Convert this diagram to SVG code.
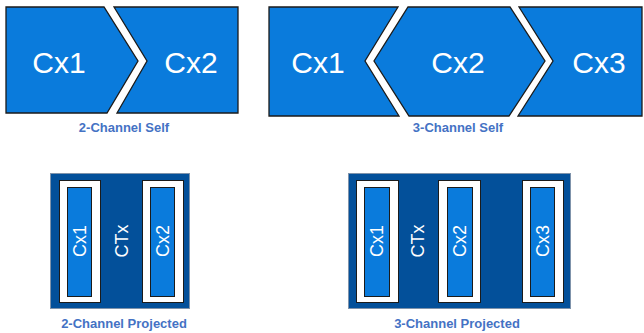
<svg xmlns="http://www.w3.org/2000/svg" width="644" height="333" viewBox="0 0 644 333">
<style>
.elec{fill:#0A7BDC;stroke:#1b1b1b;stroke-width:1.3;stroke-linejoin:miter}
.big{font-family:"Liberation Sans",Arial,sans-serif;font-size:30px;fill:#ffffff;text-anchor:middle}
.rot{font-family:"Liberation Sans",Arial,sans-serif;font-size:18px;fill:#ffffff;text-anchor:middle}
.cap{font-family:"Liberation Sans",Arial,sans-serif;font-size:13px;font-weight:bold;fill:#4472C4;text-anchor:middle}
.panel{fill:#03509A;stroke:#7f93ab;stroke-width:1}
.frame{fill:#ffffff;stroke:#1b1b1b;stroke-width:1}
.inner{fill:#0A7BDC;stroke:#1b1b1b;stroke-width:1}
</style>
<rect width="644" height="333" fill="#ffffff"/>

<g id="self2">
  <g id="self2-cx1">
    <polygon class="elec" points="6,7 104,7 138,61 107,113 6,113"/>
    <text class="big" x="59" y="73">Cx1</text>
  </g>
  <g id="self2-cx2">
    <polygon class="elec" points="114,7 238,7 238,113 117,113 147,61"/>
    <text class="big" x="191" y="73">Cx2</text>
  </g>
  <text class="cap" x="124" y="132">2-Channel Self</text>
</g>

<g id="self3">
  <g id="self3-cx1">
    <polygon class="elec" points="269,7 398,7 365,61 399,116 269,116"/>
    <text class="big" x="318" y="73">Cx1</text>
  </g>
  <g id="self3-cx2">
    <polygon class="elec" points="408,7 510,7 545,61 509,116 409,116 374,61"/>
    <text class="big" x="458" y="73">Cx2</text>
  </g>
  <g id="self3-cx3">
    <polygon class="elec" points="519,7 642,7 642,116 518,116 553,61"/>
    <text class="big" x="599" y="73">Cx3</text>
  </g>
  <text class="cap" x="458" y="132">3-Channel Self</text>
</g>

<g id="proj2">
  <rect class="panel" x="50.5" y="173.5" width="139" height="135"/>
  <g id="proj2-cx1">
    <rect class="frame" x="59.5" y="180.5" width="41" height="122"/>
    <rect class="inner" x="67.5" y="187.5" width="24" height="109"/>
    <text class="rot" transform="translate(86,241) rotate(-90)">Cx1</text>
  </g>
  <g id="proj2-ctx">
    <text class="rot" transform="translate(128,241) rotate(-90)">CTx</text>
  </g>
  <g id="proj2-cx2">
    <rect class="frame" x="142.5" y="180.5" width="41" height="122"/>
    <rect class="inner" x="150.5" y="187.5" width="24" height="109"/>
    <text class="rot" transform="translate(169,241) rotate(-90)">Cx2</text>
  </g>
  <text class="cap" x="124" y="328">2-Channel Projected</text>
</g>

<g id="proj3">
  <rect class="panel" x="348.5" y="173.5" width="222" height="135"/>
  <g id="proj3-cx1">
    <rect class="frame" x="356.5" y="180.5" width="42" height="122"/>
    <rect class="inner" x="364.5" y="187.5" width="25" height="109"/>
    <text class="rot" transform="translate(383,241) rotate(-90)">Cx1</text>
  </g>
  <g id="proj3-ctx">
    <text class="rot" transform="translate(424,241) rotate(-90)">CTx</text>
  </g>
  <g id="proj3-cx2">
    <rect class="frame" x="438.5" y="180.5" width="42" height="122"/>
    <rect class="inner" x="447.5" y="187.5" width="25" height="109"/>
    <text class="rot" transform="translate(466,241) rotate(-90)">Cx2</text>
  </g>
  <g id="proj3-cx3">
    <rect class="frame" x="522.5" y="180.5" width="41" height="122"/>
    <rect class="inner" x="530.5" y="187.5" width="24" height="109"/>
    <text class="rot" transform="translate(549,241) rotate(-90)">Cx3</text>
  </g>
  <text class="cap" x="457" y="328">3-Channel Projected</text>
</g>

<g id="connectors"></g>
</svg>
